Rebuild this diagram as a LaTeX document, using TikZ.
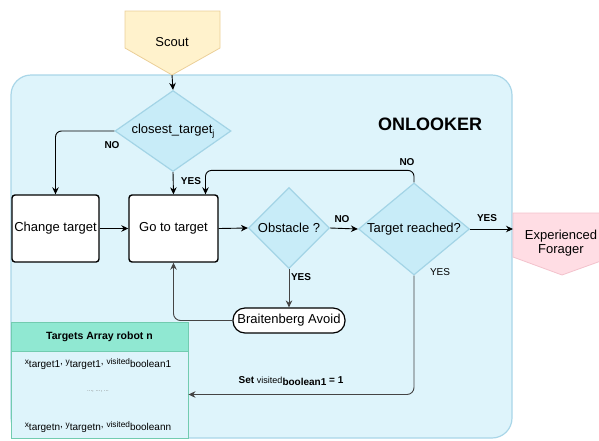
\documentclass[tikz,border=0pt]{standalone}
\usepackage{fontspec}
\setmainfont{Liberation Sans}
\usetikzlibrary{shapes.geometric,arrows.meta}

\definecolor{panelfill}{HTML}{DEF4FB}
\definecolor{paneldraw}{HTML}{A9D6E8}
\definecolor{decfill}{HTML}{C8ECF8}
\definecolor{decdraw}{HTML}{A3D4E6}
\definecolor{scoutfill}{HTML}{FFF2CC}
\definecolor{scoutdraw}{HTML}{EBCF98}
\definecolor{forfill}{HTML}{FFDDE4}
\definecolor{fordraw}{HTML}{F3C2CC}
\definecolor{headfill}{HTML}{90E8D2}
\definecolor{tabdraw}{HTML}{72CCB0}
\definecolor{linegray}{HTML}{444444}

\newcommand{\mainfs}{\fontsize{13}{15}\selectfont}
\newcommand{\lblfs}{\fontsize{10}{12}\selectfont\bfseries}
\newcommand{\lowsub}[2]{{\fontsize{8.3}{9}\selectfont #1}\raisebox{-2.8pt}{\fontsize{10}{11}\selectfont #2}}

\tikzset{
  procbox/.style={draw=black, line width=1.4pt, fill=white, rounded corners=3pt,
    inner sep=0pt, font=\mainfs},
  decision/.style={diamond, draw=decdraw, fill=decfill, line width=1.2pt,
    inner sep=0pt, font=\mainfs},
  flow/.style={draw=black, line width=0.9pt, -{Stealth[length=7pt,width=6.5pt]}},
  flowgray/.style={flow, draw=linegray},
  lbl/.style={font=\lblfs, inner sep=1pt},
}

\begin{document}
\begin{tikzpicture}[x=1pt, y=-1pt]
\useasboundingbox (0,0) rectangle (599,440);

% ONLOOKER panel
\draw[fill=panelfill, draw=paneldraw, line width=1.2pt, rounded corners=20pt]
  (11,75) rectangle (512,438);
\node[font=\fontsize{18}{20}\selectfont\bfseries] (title) at (430,124) {ONLOOKER};

% Scout entry shape
\draw[fill=scoutfill, draw=scoutdraw, line width=0.8pt]
  (125,11) -- (220,11) -- (220,48) -- (172,75) -- (125,48) -- cycle;
\node[font=\mainfs] (scout) at (172,42) {Scout};
\coordinate (scouttip) at (172,75);

% Experienced forager exit shape
\draw[fill=forfill, draw=fordraw, line width=0.8pt]
  (513,213) -- (612,213) -- (612,257) -- (562,275) -- (513,257) -- cycle;
\node[font=\mainfs, align=center] (forager) at (561,243) {Experienced\\[-1pt]Forager};
\coordinate (forin) at (513,229);

% decisions
\node[decision, minimum width=116pt, minimum height=81pt, aspect=1.43] (closest) at (173,131)
  {closest\_target\raisebox{-3pt}{\fontsize{9}{10}\selectfont j}};
\node[decision, minimum width=81pt, minimum height=81pt, aspect=1] (obst) at (289,228)
  {Obstacle ?};
\node[decision, minimum width=111pt, minimum height=92pt, aspect=1.2] (reached) at (414,229)
  {Target reached?};

% processes
\node[procbox, minimum width=87pt, minimum height=67pt] (change) at (55.5,228.5) {Change target};
\node[procbox, minimum width=89pt, minimum height=67pt] (goto) at (173.5,228.5) {Go to target};
\node[draw=black, line width=1.2pt, fill=white, rounded corners=12pt, inner sep=0pt,
  minimum width=112pt, minimum height=25pt, font=\mainfs] (brait) at (289,320.5) {Braitenberg Avoid};

% targets array table
\node[draw=tabdraw, fill=headfill, line width=0.9pt, minimum width=177pt, minimum height=29pt,
  inner sep=0pt, font=\fontsize{10.5}{12}\selectfont\bfseries] (thead) at (99.5,336.5)
  {Targets Array robot n};
\node[draw=tabdraw, fill=panelfill, line width=0.9pt, minimum width=177pt, minimum height=87pt,
  inner sep=0pt] (tbody) at (99.5,394.5) {};
\node (row1) at (98,364) {\lowsub{x}{target1}, \lowsub{y}{target1}, \lowsub{visited}{boolean1}};
\node[font=\fontsize{6}{7}\selectfont, text=gray] (rowdots) at (98,392) {..., ..., ...};
\node (rown) at (98,427) {\lowsub{x}{targetn}, \lowsub{y}{targetn}, \lowsub{visited}{booleann}};

% connectors
\draw[flow] (scouttip) -- (closest.north);
\draw[flow, rounded corners=6pt] (closest.west) -| (change.north);
\node[lbl] (lno1) at (112,145) {NO};
\draw[flow] (closest.south) -- (goto.north);
\node[lbl] (lyes1) at (191,181) {YES};
\draw[flow] (change.east) -- (goto.west);
\draw[flow] (goto.east) -- (obst.west);
\draw[flow] (obst.east) -- (reached.west);
\node[lbl] (lno2) at (342,219) {NO};
\draw[flowgray] (obst.south) -- (brait.north);
\node[lbl] (lyes2) at (301,277) {YES};
\draw[flowgray, rounded corners=7pt] (brait.west) -| (goto.south);
\draw[flow, rounded corners=6pt] (reached.north) -- ++(0,-12) -| ([xshift=32pt]goto.north);
\node[lbl] (lno3) at (407,162) {NO};
\draw[flow] (reached.east) -- (forin);
\node[lbl] (lyes3) at (487,218) {YES};
\draw[flowgray, rounded corners=7pt] (reached.south) |- (tbody.east);
\node[font=\fontsize{10}{12}\selectfont, inner sep=1pt] (lyes4) at (440,272) {YES};
\node[font=\fontsize{10}{11}\selectfont\bfseries, inner sep=1pt] (lset) at (291,381)
  {Set {\mdseries\fontsize{9}{10}\selectfont visited}\raisebox{-2.5pt}{boolean1} = 1};
\end{tikzpicture}
\end{document}
